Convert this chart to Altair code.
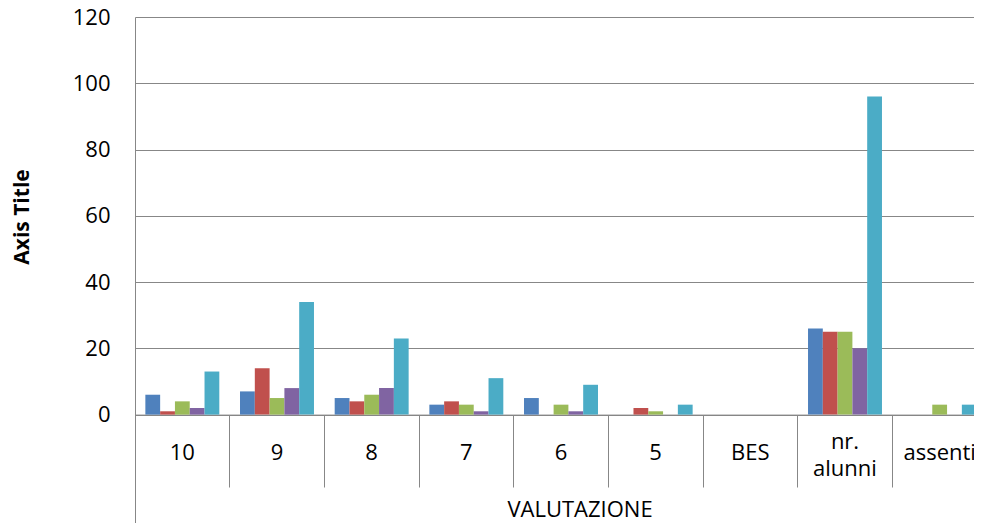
import altair as alt
import pandas as pd

categories = ["10", "9", "8", "7", "6", "5", "BES", "nr. alunni", "assenti"]
series = ["Classe A", "Classe B", "Classe C", "Classe D", "Totale"]
colors = ["#4F81BD", "#C0504D", "#9BBB59", "#8064A2", "#4BACC6"]
classe_a = [6, 7, 5, 3, 5, 0, 0, 26, 0]
classe_b = [1, 14, 4, 4, 0, 2, 0, 25, 0]
classe_c = [4, 5, 6, 3, 3, 1, 0, 25, 3]
classe_d = [2, 8, 8, 1, 1, 0, 0, 20, 0]
totale = [13, 34, 23, 11, 9, 3, 0, 96, 3]
y_ticks = [0, 20, 40, 60, 80, 100, 120]
x_title = "VALUTAZIONE"
y_title = "Axis Title"

values = [classe_a, classe_b, classe_c, classe_d, totale]
rows = []
for s, vals in zip(series, values):
    for c, v in zip(categories, vals):
        rows.append({"categoria": c, "serie": s, "valore": v})
df = pd.DataFrame(rows)

GRAY = "#878787"
FONT = "Open Sans"
W = 852
LEFT = 127
SVG_W = 966

bars = alt.Chart(df).mark_bar().encode(
    x=alt.X(
        "categoria:N",
        sort=categories,
        scale=alt.Scale(paddingInner=0, paddingOuter=0),
        axis=alt.Axis(
            orient="bottom",
            title=None, bandPosition=0,
            tickSize=72.4, tickColor=GRAY, tickWidth=1,
            domainColor=GRAY, domainWidth=1,
            labelPadding=alt.condition("datum.value == 'nr. alunni'",
                                       alt.value(-46), alt.value(-34.4)),
            labelBaseline="middle",
            labelFont=FONT, labelFontSize=22, labelColor="#000000", labelAngle=0,
            labelOverlap=False, labelLimit=300, labelLineHeight=27,
            labelExpr="datum.label == 'nr. alunni' ? ['nr.', 'alunni'] : datum.label",
            grid=False,
        ),
    ),
    xOffset=alt.XOffset("serie:N", sort=series,
                        scale=alt.Scale(paddingOuter=0.7, paddingInner=0)),
    y=alt.Y(
        "valore:Q",
        scale=alt.Scale(domain=[0, 120], nice=False),
        axis=alt.Axis(
            values=y_ticks, title=y_title, grid=True, gridColor=GRAY, gridWidth=1,
            domainColor=GRAY, domainWidth=1, ticks=False, labelPadding=25,
            labelFont=FONT, labelFontSize=22, labelColor="#000000",
            titleFont=FONT, titleFontSize=21, titleFontWeight="bold", titleColor="#000000",
            titleX=-112.5, titleY=199.5, titleAlign="center", titleBaseline="middle",
            titleAngle=270,
        ),
    ),
    color=alt.Color("serie:N", sort=series,
                    scale=alt.Scale(domain=series, range=colors), legend=None),
)

outer = alt.Chart(pd.DataFrame({"gruppo": [x_title]})).mark_bar(opacity=0).encode(
    x=alt.X(
        "gruppo:N",
        scale=alt.Scale(paddingInner=0, paddingOuter=0),
        axis=alt.Axis(
            orient="bottom",
            title=None, bandPosition=0, labelOffset=19,
            tickSize=109, tickColor=GRAY, tickWidth=1,
            domain=False, labelPadding=-14, labelBaseline="middle",
            labelFont=FONT, labelFontSize=22, labelColor="#000000", labelAngle=0,
            labelLimit=400,
        ),
    ),
)

chart = alt.layer(bars, outer).resolve_scale(x="independent").properties(
    width=W,
    height=397.6,
    autosize=alt.AutoSizeParams(type="none"),
    padding={"left": LEFT, "top": 9, "right": SVG_W - LEFT - W, "bottom": 108.4},
).configure_view(stroke=None)

chart.save("out.html", embed_options={"renderer": "svg", "actions": False})
